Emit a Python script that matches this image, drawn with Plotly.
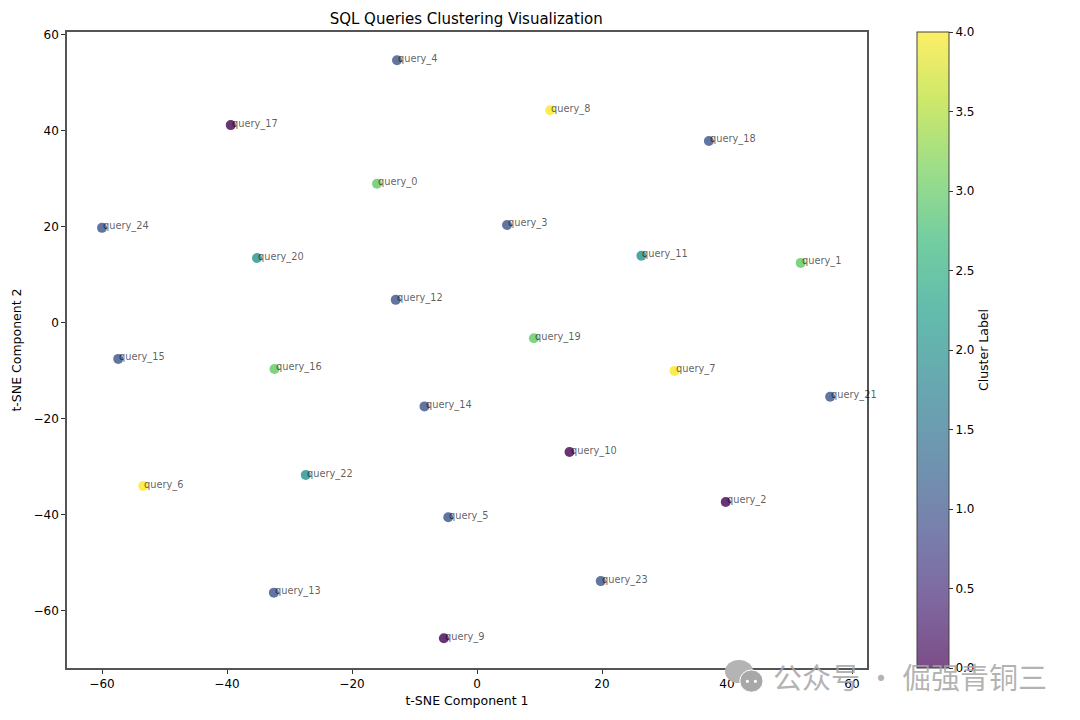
# t-SNE scatter of SQL queries, coloured by cluster label
import plotly.graph_objects as go

queries = ["query_" + str(i) for i in range(25)]
tsne1 = [-16.0, 51.8, 39.8, 4.8, -12.8, -4.6, -53.4, 31.6, 11.7, -5.3, 14.8, 26.3, -13.0,
         -32.5, -8.4, -57.4, -32.4, -39.4, 37.1, 9.1, -35.2, 56.5, -27.4, 19.8, -60.0]
tsne2 = [29.0, 12.5, -37.3, 20.4, 54.7, -40.5, -34.0, -10.0, 44.3, -65.7, -26.9, 14.0, 4.8,
         -56.2, -17.4, -7.5, -9.6, 41.2, 37.9, -3.2, 13.5, -15.4, -31.7, -53.8, 19.8]
clusters = [3, 3, 0, 1, 1, 1, 4, 4, 4, 0, 0, 2, 1,
            1, 1, 1, 3, 0, 1, 3, 2, 1, 2, 1, 1]
cbar_ticks = [0, 0.5, 1, 1.5, 2, 2.5, 3, 3.5, 4]
cbar_labels = ["0.0", "0.5", "1.0", "1.5", "2.0", "2.5", "3.0", "3.5", "4.0"]
axis_ticks = [-60, -40, -20, 0, 20, 40, 60]
axis_labels = ["−60", "−40", "−20", "0", "20", "40", "60"]

viridis_stops = [0.0, 0.111, 0.222, 0.333, 0.444, 0.556, 0.667, 0.778, 0.889, 1.0]
viridis_rgb = ["68,1,84", "72,40,120", "62,74,137", "49,104,142", "38,130,142",
               "31,158,137", "53,183,121", "110,206,88", "181,222,43", "253,231,37"]


def viridis(alpha):
    return [[s, "rgba(" + c + "," + str(alpha) + ")"] for s, c in zip(viridis_stops, viridis_rgb)]


fig = go.Figure()
# the dots come out a bit denser than the colorbar in the picture
fig.add_trace(go.Scatter(
    x=tsne1, y=tsne2, mode="markers", hovertext=queries, showlegend=False,
    marker=dict(size=10, color=clusters, colorscale=viridis(0.8), cmin=0, cmax=4,
                line=dict(width=0), showscale=False),
))
# empty trace, only here to carry the colorbar
fig.add_trace(go.Scatter(
    x=[None], y=[None], mode="markers", showlegend=False, hoverinfo="skip",
    marker=dict(
        color=[0], colorscale=viridis(0.7), cmin=0, cmax=4, showscale=True,
        colorbar=dict(
            title=dict(text="Cluster Label", side="right", font=dict(size=12.5, color="black")),
            x=1.0625, xanchor="left", xpad=0, y=0.5, yanchor="middle", ypad=0,
            len=1, lenmode="fraction", thickness=32, thicknessmode="pixels",
            tickmode="array", tickvals=cbar_ticks, ticktext=cbar_labels,
            ticks="outside", ticklen=4, tickwidth=1, tickcolor="#333333",
            tickfont=dict(size=12, color="black"),
            outlinewidth=1, outlinecolor="#444444",
        ),
    ),
))

for name, px, py in zip(queries, tsne1, tsne2):
    fig.add_annotation(x=px, y=py, text=name, showarrow=False, xanchor="left", yanchor="middle",
                       yshift=1.5, borderpad=0, font=dict(size=9.8, color="rgba(0,0,0,0.65)"))

# watermark in the bottom right corner of the photo
fig.add_shape(type="circle", xref="paper", yref="paper", x0=0.8225, x1=0.8575, y0=-0.0236, y1=0.0126,
              fillcolor="#b4b4b4", line=dict(width=0), layer="above")
fig.add_shape(type="circle", xref="paper", yref="paper", x0=0.841, x1=0.87, y0=-0.038, y1=-0.003,
              fillcolor="#a8a8a8", line=dict(color="white", width=1), layer="above")
fig.add_shape(type="circle", xref="paper", yref="paper", x0=0.8485, x1=0.8525, y0=-0.0235, y1=-0.0185,
              fillcolor="white", line=dict(width=0), layer="above")
fig.add_shape(type="circle", xref="paper", yref="paper", x0=0.8585, x1=0.8625, y0=-0.0235, y1=-0.0185,
              fillcolor="white", line=dict(width=0), layer="above")
fig.add_annotation(xref="paper", yref="paper", x=0.880, y=0.0, text="公众号 · 倔强青铜三", showarrow=False,
                   xanchor="left", yanchor="middle", yshift=-8,
                   font=dict(size=29, color="rgba(165,165,165,0.85)", family="Noto Sans CJK SC"))

# the page adds 8px around the figure, the margins allow for it
fig.update_layout(
    width=1080, height=720, autosize=False,
    margin=dict(l=59, r=221, t=24, b=60),
    paper_bgcolor="white", plot_bgcolor="white",
    font=dict(family="DejaVu Sans", color="black", size=12),
    title=dict(text="SQL Queries Clustering Visualization", x=0.499, xref="paper", xanchor="center",
               y=0.985, yanchor="middle", font=dict(size=15, color="black")),
)
fig.update_xaxes(range=[-65.6, 62.4], tickvals=axis_ticks, ticktext=axis_labels, automargin=False,
                 showgrid=False, zeroline=False, showline=True, mirror=True, linecolor="#555555", linewidth=1.5,
                 ticks="outside", ticklen=4, tickcolor="#333333",
                 title=dict(text="t-SNE Component 1", standoff=6, font=dict(size=12.5)))
fig.update_yaxes(range=[-71.9, 60.6], tickvals=axis_ticks, ticktext=axis_labels, automargin=False,
                 showgrid=False, zeroline=False, showline=True, mirror=True, linecolor="#555555", linewidth=1.5,
                 ticks="outside", ticklen=4, tickcolor="#333333",
                 title=dict(text="t-SNE Component 2", standoff=9, font=dict(size=12.5)))

fig.write_html("out.html")
